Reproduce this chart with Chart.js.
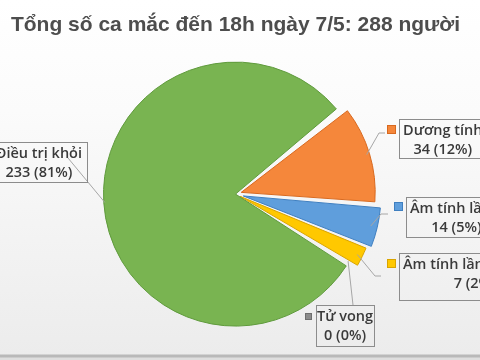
<!DOCTYPE html>
<html>
<head>
<meta charset="utf-8">
<script src="https://cdn.jsdelivr.net/npm/chart.js@4.4.0/dist/chart.umd.min.js"></script>
<style>
  html, body { margin: 0; padding: 0; }
  body {
    width: 480px; height: 360px; overflow: hidden;
    background: linear-gradient(to bottom, #ffffff 0px, #fbfbfb 110px, #ececec 354px, #b9b9b9 355px, #b9b9b9 357px, #dedede 358px);
  }
  #wrap { position: relative; width: 480px; height: 360px; }
</style>
</head>
<body>
<div id="wrap"><canvas id="chart"></canvas></div>
<script>
const titleText = 'Tổng số ca mắc đến 18h ngày 7/5: 288 người';
const categories = ['Dương tính', 'Âm tính lần 1', 'Âm tính lần 2 trở lên', 'Tử vong', 'Điều trị khỏi'];
const cases = [34, 14, 7, 0, 233];
const sliceColors = ['#f5873b', '#5f9edc', '#ffc800', '#8c8c8c', '#79b451'];
const edgeColors = ['#d8691f', '#3f7fc0', '#d9a400', '#6f6f6f', '#5f9a3c'];

// label boxes: left or right edge, top, height, side padding; legend key; leader line bends
const callouts = [
  { left: 399, top: 119, h: 39, pad: 8, key: [387, 125, 9], bends: [[379, 133], [385, 133]] },
  { left: 406, top: 197, h: 40, pad: 8, key: [394, 202, 9], bends: [[381, 214], [388, 214]] },
  { left: 399, top: 253, h: 47, pad: 8, key: [387, 259, 9], bends: [[375, 276], [381, 276]] },
  { left: 316, top: 305, h: 41, pad: 2, key: [305, 313, 7], bends: [[353, 305]] },
  { right: 87, top: 142, h: 40, pad: 10, key: null, bends: [[68, 158]] }
];

const labelFont = '600 14.5px "Open Sans"';

const calloutPlugin = {
  id: 'callouts',
  afterDatasetsDraw(chart) {
    const ctx = chart.ctx;
    const ds = chart.data.datasets[0];
    const meta = chart.getDatasetMeta(0);
    const total = cases.reduce((a, b) => a + b, 0);
    ctx.save();
    ctx.font = labelFont;
    meta.data.forEach((arc, i) => {
      const c = callouts[i];
      const p = arc.getProps(['x', 'y', 'startAngle', 'endAngle', 'outerRadius'], true);
      const mid = (p.startAngle + p.endAngle) / 2;
      const shift = (ds.offset[i] || 0) / 4;
      const r = p.outerRadius + shift;
      const ax = p.x + Math.cos(mid) * r;
      const ay = p.y + Math.sin(mid) * r;

      // leader line
      ctx.strokeStyle = '#a6a6a6';
      ctx.lineWidth = 1;
      ctx.beginPath();
      ctx.moveTo(ax, ay);
      c.bends.forEach(pt => ctx.lineTo(pt[0], pt[1]));
      ctx.stroke();

      const line1 = categories[i];
      const line2 = cases[i] + ' (' + Math.round(cases[i] / total * 100) + '%)';
      const w = Math.max(ctx.measureText(line1).width, ctx.measureText(line2).width) + c.pad;
      const bx = c.left !== undefined ? c.left : c.right - w;

      // box
      ctx.strokeStyle = '#8c8c8c';
      ctx.strokeRect(Math.round(bx) + 0.5, c.top + 0.5, Math.round(w), c.h);

      // legend key
      if (c.key) {
        const [kx, ky, ks] = c.key;
        ctx.fillStyle = sliceColors[i];
        ctx.fillRect(kx, ky, ks, ks);
        ctx.strokeStyle = edgeColors[i];
        ctx.strokeRect(kx + 0.5, ky + 0.5, ks - 1, ks - 1);
      }

      // text
      ctx.fillStyle = '#3a3a3a';
      ctx.textAlign = 'center';
      ctx.textBaseline = 'middle';
      ctx.fillText(line1, bx + w / 2, c.top + 12);
      ctx.fillText(line2, bx + w / 2, c.top + 30.5);
    });
    ctx.restore();
  }
};

new Chart(document.getElementById('chart'), {
  type: 'pie',
  data: {
    labels: categories,
    datasets: [{
      data: cases,
      backgroundColor: sliceColors,
      borderColor: edgeColors,
      borderWidth: 1,
      spacing: 2,
      offset: [24, 32, 20, 0, 0]
    }]
  },
  options: {
    responsive: true,
    maintainAspectRatio: false,
    animation: false,
    rotation: 52,
    radius: 131,
    layout: { padding: { left: 0, right: 9, top: 0, bottom: 20 } },
    plugins: {
      legend: { display: false },
      tooltip: { enabled: false },
      title: {
        display: true,
        text: titleText,
        color: '#4d4d4d',
        font: { family: 'Liberation Sans', size: 21, weight: 'bold' },
        padding: { top: 13, bottom: 10 }
      }
    }
  },
  plugins: [calloutPlugin]
});
</script>
</body>
</html>
